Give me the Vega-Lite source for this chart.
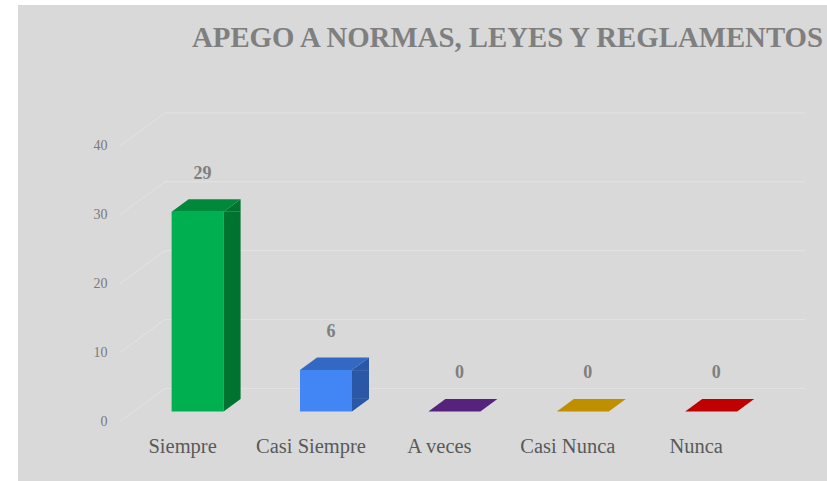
{
  "$schema": "https://vega.github.io/schema/vega-lite/v6.json",
  "width": 809,
  "height": 476,
  "autosize": "none",
  "padding": {"left": 18, "top": 5, "right": 0, "bottom": 0},
  "background": "white",
  "view": {"fill": "#d9d9d9", "stroke": null},
  "title": {
    "text": "APEGO A NORMAS, LEYES Y REGLAMENTOS",
    "font": "Liberation Serif",
    "fontSize": 28.8,
    "fontWeight": "bold",
    "color": "#7f7f7f",
    "anchor": "middle",
    "frame": "group",
    "baseline": "alphabetic",
    "offset": -71,
    "dx": 85
  },
  "data": {
    "values": [
      {"cat": "Siempre", "value": 29},
      {"cat": "Casi Siempre", "value": 6},
      {"cat": "A veces", "value": 0},
      {"cat": "Casi Nunca", "value": 0},
      {"cat": "Nunca", "value": 0}
    ]
  },
  "encoding": {
    "x": {
      "field": "cat",
      "type": "nominal",
      "sort": null,
      "scale": {"domain": ["Siempre", "Casi Siempre", "A veces", "Casi Nunca", "Nunca"], "paddingInner": 0.595, "paddingOuter": 0.948, "align": 0.631},
      "axis": {
        "orient": "bottom",
        "offset": -29,
        "title": null,
        "ticks": false,
        "tickSize": 0,
        "domain": false,
        "labelPadding": 0,
        "labelBaseline": "alphabetic",
        "labelAngle": 0,
        "labelOffset": -15,
        "labelFont": "Liberation Serif",
        "labelFontSize": 20.5,
        "labelColor": "#595959"
      }
    }
  },
  "layer": [
    {
      "data": {"values": [{"v": 0}, {"v": 10}, {"v": 20}, {"v": 30}, {"v": 40}]},
      "mark": {"type": "rule", "stroke": "#e3e3e3", "strokeWidth": 1, "xOffset": -77.6, "x2Offset": -32.6, "yOffset": 10, "y2Offset": -23},
      "encoding": {
        "x": {"datum": "Siempre", "type": "nominal"},
        "x2": {"datum": "Siempre"},
        "y": {"field": "v", "type": "quantitative", "scale": {"domain": [-10.1, 59.0], "nice": false, "zero": false},
          "axis": {
            "orient": "left", "offset": -89, "title": null, "ticks": false, "tickSize": 0, "domain": false, "grid": false,
            "labelPadding": 0, "values": [0, 10, 20, 30, 40], "labelOffset": 10, "labelBaseline": "middle",
            "labelFont": "Liberation Serif", "labelFontSize": 14, "labelColor": "#7a7a7a"
          }},
        "y2": {"field": "v"}
      }
    },
    {
      "data": {"values": [{"v": 0}, {"v": 10}, {"v": 20}, {"v": 30}, {"v": 40}]},
      "mark": {"type": "rule", "stroke": "#e3e3e3", "strokeWidth": 1, "xOffset": -32.6, "x2Offset": 94, "yOffset": -23},
      "encoding": {
        "x": {"datum": "Siempre", "type": "nominal"},
        "x2": {"datum": "Nunca"},
        "y": {"field": "v", "type": "quantitative"}
      }
    },
    {
      "mark": {"type": "bar"},
      "encoding": {
        "y": {"field": "value", "type": "quantitative"},
        "y2": {"datum": 0},
        "color": {"field": "cat", "type": "nominal", "legend": null,
          "scale": {"domain": ["Siempre", "Casi Siempre", "A veces", "Casi Nunca", "Nunca"],
                    "range": ["#00b050", "#4285f4", "#7030a0", "#bf8f00", "#c00000"]}}
      }
    },
    {
      "transform": [{"filter": "datum.value > 0"}],
      "mark": {"type": "bar", "width": 17, "xOffset": 34.5, "y2Offset": -12.5},
      "encoding": {
        "y": {"field": "value", "type": "quantitative"},
        "y2": {"datum": 0},
        "color": {"field": "cat", "type": "nominal", "legend": null,
          "scale": {"domain": ["Siempre", "Casi Siempre", "A veces", "Casi Nunca", "Nunca"],
                    "range": ["#007330", "#2b58a6", "#4a1f6c", "#9a7300", "#9a0000"]}}
      }
    },
    {
      "transform": [{"filter": "datum.value > 0"}],
      "mark": {"type": "point", "shape": "M26,0L43,-12.5L43,0Z", "size": 4, "filled": true, "opacity": 1},
      "encoding": {
        "y": {"field": "value", "type": "quantitative"},
        "color": {"field": "cat", "type": "nominal", "legend": null,
          "scale": {"domain": ["Siempre", "Casi Siempre", "A veces", "Casi Nunca", "Nunca"],
                    "range": ["#007330", "#2b58a6", "#4a1f6c", "#9a7300", "#9a0000"]}}
      }
    },
    {
      "transform": [{"filter": "datum.value > 0"}],
      "mark": {"type": "point", "shape": "M26,-12.5L26,0L43,-12.5Z", "size": 4, "filled": true, "opacity": 1},
      "encoding": {
        "y": {"datum": 0, "type": "quantitative"},
        "color": {"field": "cat", "type": "nominal", "legend": null,
          "scale": {"domain": ["Siempre", "Casi Siempre", "A veces", "Casi Nunca", "Nunca"],
                    "range": ["#007330", "#2b58a6", "#4a1f6c", "#9a7300", "#9a0000"]}}
      }
    },
    {
      "mark": {"type": "point", "shape": "M-26,0L26,0L43,-12.5L-9,-12.5Z", "size": 4, "filled": true, "opacity": 1},
      "encoding": {
        "y": {"field": "value", "type": "quantitative"},
        "color": {"field": "cat", "type": "nominal", "legend": null,
          "scale": {"domain": ["Siempre", "Casi Siempre", "A veces", "Casi Nunca", "Nunca"],
                    "range": ["#00893b", "#3369c3", "#55237c", "#bf8f00", "#c00000"]}}
      }
    },
    {
      "mark": {"type": "text", "dx": 5, "dy": -38, "baseline": "middle", "font": "Liberation Serif", "fontSize": 18, "fontWeight": "bold", "color": "#7f7f7f"},
      "encoding": {
        "y": {"field": "value", "type": "quantitative"},
        "text": {"field": "value", "type": "quantitative"}
      }
    }
  ],
  "resolve": {"scale": {"color": "independent"}}
}
